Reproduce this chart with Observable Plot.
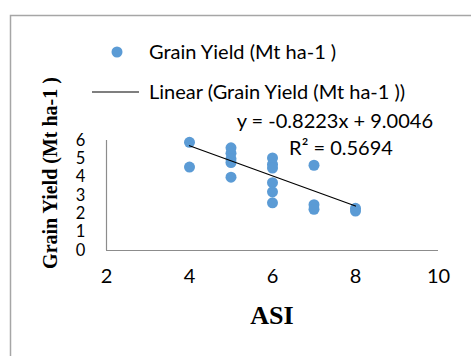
<!DOCTYPE html>
<html>
<head>
<meta charset="utf-8">
<script src="https://cdn.jsdelivr.net/npm/d3@7"></script>
<script src="https://cdn.jsdelivr.net/npm/@observablehq/plot@0.6"></script>
<style>
  html, body { margin: 0; padding: 0; background: #fff; }
  #chart svg { display: block; }
</style>
</head>
<body>
<div id="chart"></div>
<script>
// ASI (days) values and grain yield (Mt ha-1)
const asi   = [4, 4, 5, 5, 5, 5, 5, 6, 6, 6, 6, 6, 6, 7, 7, 7, 8, 8];
const yieldVals = [5.9, 4.55, 5.6, 5.3, 5.0, 4.8, 4.0, 5.05, 4.7, 4.5, 3.7, 3.2, 2.6, 4.65, 2.5, 2.25, 2.3, 2.15];
const xTicks = [2, 4, 6, 8, 10];
const yTicks = [0, 1, 2, 3, 4, 5, 6];
const slope = -0.8223;
const intercept = 9.0046;
const r2 = 0.5694;
const seriesName = "Grain Yield (Mt ha-1 )";
const trendName = "Linear (Grain Yield (Mt ha-1 ))";
const xTitle = "ASI";
const yTitle = "Grain Yield (Mt ha-1 )";

const points = asi.map((x, i) => ({x, y: yieldVals[i]}));
const xMin = d3.min(asi), xMax = d3.max(asi);
const trend = [xMin, xMax].map(x => ({x, y: slope * x + intercept}));

const W = 471, H = 356;
const font = "Lato, 'Open Sans', sans-serif";
const serif = "'Liberation Serif', 'Times New Roman', serif";

const plot = Plot.plot({
  width: W,
  height: H,
  marginLeft: 106,
  marginRight: 33,
  marginTop: 140,
  marginBottom: 106,
  style: {fontFamily: font, fontSize: "20px", color: "#000", background: "transparent"},
  x: {domain: [2, 10], label: null},
  y: {domain: [0, 6], label: null},
  marks: [
    Plot.axisY({ticks: yTicks, tickSize: 0, tickPadding: 26, tickFormat: d3.format("d"), textAnchor: "middle", label: null, fontSize: 16.5}),
    Plot.axisX({ticks: xTicks, tickSize: 0, tickPadding: 18, tickFormat: d3.format("d"), label: null, fontSize: 20}),
    Plot.ruleY([0], {stroke: "#8c8c8c", strokeWidth: 1.2}),
    Plot.ruleX([2], {stroke: "#8c8c8c", strokeWidth: 1.2}),
    Plot.dot(points, {x: "x", y: "y", r: 5.5, fill: "#5B9BD5", stroke: "none"}),
    Plot.line(trend, {x: "x", y: "y", stroke: "#000", strokeWidth: 1.2})
  ]
});

const svg = d3.select(plot);
// outer chart frame
svg.insert("rect", ":first-child")
  .attr("x", 10.5).attr("y", 15.5).attr("width", 500).attr("height", 400)
  .attr("fill", "none").attr("stroke", "#a6a6a6").attr("stroke-width", 1.5);

// legend
const leg = svg.append("g").attr("font-family", font).attr("font-size", 20)
  .attr("fill", "#000").attr("text-anchor", "start");
leg.append("circle").attr("cx", 117).attr("cy", 52).attr("r", 5.5).attr("fill", "#5B9BD5");
leg.append("text").attr("x", 149).attr("y", 52).attr("dy", "0.35em").text(seriesName);
leg.append("line").attr("x1", 92).attr("x2", 139).attr("y1", 92).attr("y2", 92)
  .attr("stroke", "#000").attr("stroke-width", 1.2);
leg.append("text").attr("x", 149).attr("y", 92).attr("dy", "0.35em").text(trendName);

// trendline label
const lab = svg.append("g").attr("font-family", font).attr("font-size", 20).attr("fill", "#000");
lab.append("text").attr("x", 433).attr("y", 121).attr("dy", "0.35em").attr("text-anchor", "end")
  .text(`y = ${slope}x + ${intercept}`);
lab.append("text").attr("x", 341).attr("y", 148).attr("dy", "0.35em").attr("text-anchor", "middle")
  .text(`R² = ${r2}`);

// axis titles
svg.append("text").attr("x", 272).attr("y", 315).attr("dy", "0.35em").attr("text-anchor", "middle")
  .attr("font-family", serif).attr("font-weight", "bold")
  .attr("font-size", 26).attr("fill", "#000").text(xTitle);
svg.append("text").attr("transform", "translate(50,173) rotate(-90)").attr("dy", "0.35em")
  .attr("text-anchor", "middle")
  .attr("font-family", serif).attr("font-weight", "bold")
  .attr("font-size", 20).attr("fill", "#000").text(yTitle);

document.getElementById("chart").appendChild(plot);
</script>
</body>
</html>
